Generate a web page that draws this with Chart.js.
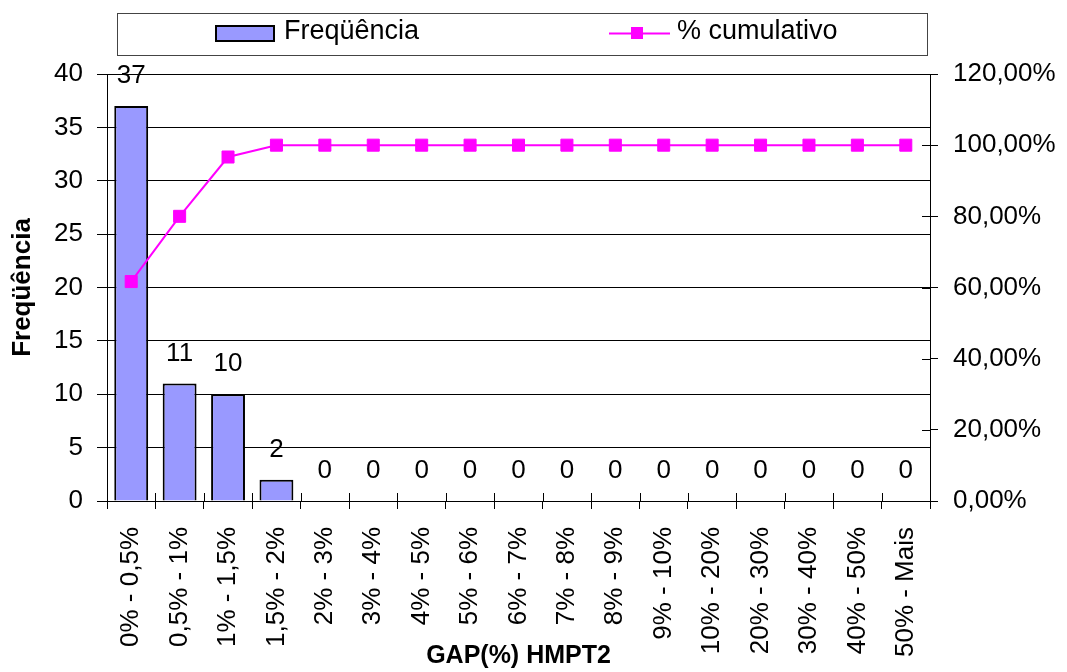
<!DOCTYPE html>
<html>
<head>
<meta charset="utf-8">
<script src="https://cdn.jsdelivr.net/npm/chart.js@4/dist/chart.umd.min.js"></script>
<style>
    html, body { margin: 0; padding: 0; background: #fff; }
    #wrap { width: 1067px; height: 672px; }
</style>
</head>
<body>
<div id="wrap"><canvas id="paretoChart" width="1067" height="672"></canvas></div>
<script>
// ── Data ────────────────────────────────────────────────────────────
const categories = [
    '0% - 0,5%', '0,5% - 1%', '1% - 1,5%', '1,5% - 2%', '2% - 3%', '3% - 4%',
    '4% - 5%', '5% - 6%', '6% - 7%', '7% - 8%', '8% - 9%', '9% - 10%',
    '10% - 20%', '20% - 30%', '30% - 40%', '40% - 50%', '50% - Mais'
];
const frequencia = [37, 11, 10, 2, 0, 0, 0, 0, 0, 0, 0, 0, 0, 0, 0, 0, 0];
const cumulativo = [61.67, 80, 96.67, 100, 100, 100, 100, 100, 100, 100, 100, 100, 100, 100, 100, 100, 100];

const freqAxis = [0, 40, 5];      // min, max, step (left)
const pctAxis  = [0, 120, 20];    // min, max, step (right, in %)

const FONT = '"Liberation Sans", Arial, Helvetica, sans-serif';
Chart.defaults.font.family = FONT;
Chart.defaults.font.size = 26;
Chart.defaults.color = '#000';

// ── Values written above each bar ───────────────────────────────────
const barLabels = {
    id: 'barLabels',
    afterDatasetsDraw(chart) {
        const ctx = chart.ctx;
        const meta = chart.getDatasetMeta(0);
        ctx.save();
        ctx.font = '26px ' + FONT;
        ctx.fillStyle = '#000';
        ctx.textAlign = 'center';
        ctx.textBaseline = 'alphabetic';
        meta.data.forEach((bar, i) => ctx.fillText(String(frequencia[i]), bar.x, bar.y - 23));
        ctx.restore();
    }
};

// ── Excel-style ticks that cross the axis (inner half) ──────────────
const innerTicks = {
    id: 'innerTicks',
    afterDraw(chart) {
        const { ctx, chartArea: a, scales } = chart;
        const n = categories.length;
        const w = (a.right - a.left) / n;
        ctx.save();
        ctx.strokeStyle = '#000';
        ctx.lineWidth = 1;
        ctx.beginPath();
        for (let i = 0; i <= n; i++) {
            const px = Math.round(a.left + i * w) + 0.5;
            ctx.moveTo(px, a.bottom);
            ctx.lineTo(px, a.bottom - 8);
        }
        scales.y1.ticks.forEach(t => {
            const py = Math.round(scales.y1.getPixelForValue(t.value)) + 0.5;
            ctx.moveTo(a.right - 8, py);
            ctx.lineTo(a.right, py);
        });
        ctx.stroke();
        ctx.restore();
    }
};

// ── Boxed legend at the top ─────────────────────────────────────────
const boxLegend = {
    id: 'boxLegend',
    afterDraw(chart) {
        const ctx = chart.ctx;
        const [bars, line] = chart.data.datasets;
        ctx.save();
        ctx.fillStyle = '#fff';
        ctx.fillRect(117.5, 13.5, 810, 42);
        ctx.strokeStyle = '#444';
        ctx.lineWidth = 1;
        ctx.strokeRect(117.5, 13.5, 810, 42);

        // bar swatch
        ctx.fillStyle = bars.backgroundColor;
        ctx.fillRect(216, 26, 58, 15);
        ctx.strokeStyle = '#000';
        ctx.lineWidth = 2;
        ctx.strokeRect(216, 26, 58, 15);

        // line swatch
        ctx.strokeStyle = line.borderColor;
        ctx.lineWidth = 2;
        ctx.beginPath();
        ctx.moveTo(609, 33.5);
        ctx.lineTo(670, 33.5);
        ctx.stroke();
        ctx.fillStyle = line.borderColor;
        ctx.fillRect(631, 27, 12, 12);

        ctx.fillStyle = '#000';
        ctx.font = '27px ' + FONT;
        ctx.textBaseline = 'alphabetic';
        ctx.fillText(bars.label, 284, 39);
        ctx.fillText(line.label, 677, 39);
        ctx.restore();
    }
};

new Chart(document.getElementById('paretoChart'), {
    type: 'bar',
    data: {
        labels: categories,
        datasets: [
            {
                type: 'bar',
                label: 'Freqüência',
                data: frequencia,
                yAxisID: 'y',
                backgroundColor: '#9999FF',
                borderColor: '#000',
                borderWidth: 2,
                barPercentage: 0.7,
                categoryPercentage: 1,
                order: 2
            },
            {
                type: 'line',
                label: '% cumulativo',
                data: cumulativo,
                yAxisID: 'y1',
                borderColor: '#FF00FF',
                borderWidth: 2,
                tension: 0,
                pointStyle: 'rect',
                pointRadius: 8.5,
                pointBackgroundColor: '#FF00FF',
                pointBorderColor: '#FF00FF',
                pointBorderWidth: 1,
                order: 1
            }
        ]
    },
    options: {
        responsive: false,
        animation: false,
        layout: { padding: { top: 74, left: 0, right: 0, bottom: 0 } },
        plugins: {
            legend: { display: false },
            tooltip: { enabled: false }
        },
        scales: {
            x: {
                afterFit: s => { s.height = 171; },
                grid: { display: true, drawOnChartArea: false, tickLength: 8, color: '#000', offset: true },
                border: { display: true, color: '#000', width: 1 },
                ticks: { minRotation: 90, maxRotation: 90, autoSkip: false, padding: 18, font: { size: 26 } },
                title: {
                    display: true,
                    text: 'GAP(%) HMPT2',
                    font: { size: 25, weight: 'bold' },
                    padding: { top: 0, bottom: 1 }
                }
            },
            y: {
                position: 'left',
                min: freqAxis[0],
                max: freqAxis[1],
                afterFit: s => { s.width = 107; },
                grid: { color: '#000', tickLength: 10 },
                border: { display: true, color: '#000', width: 1 },
                ticks: { stepSize: freqAxis[2], padding: 14, font: { size: 26 } },
                title: {
                    display: true,
                    text: 'Freqüência',
                    font: { size: 26, weight: 'bold' },
                    padding: { top: 7, bottom: 0 }
                }
            },
            y1: {
                position: 'right',
                min: pctAxis[0],
                max: pctAxis[1],
                afterFit: s => { s.width = 137; },
                grid: { drawOnChartArea: false, color: '#000', tickLength: 8 },
                border: { display: true, color: '#000', width: 1 },
                ticks: {
                    stepSize: pctAxis[2],
                    padding: 15,
                    font: { size: 26 },
                    callback: v => v.toFixed(2).replace('.', ',') + '%'
                }
            }
        }
    },
    plugins: [barLabels, innerTicks, boxLegend]
});
</script>
</body>
</html>
